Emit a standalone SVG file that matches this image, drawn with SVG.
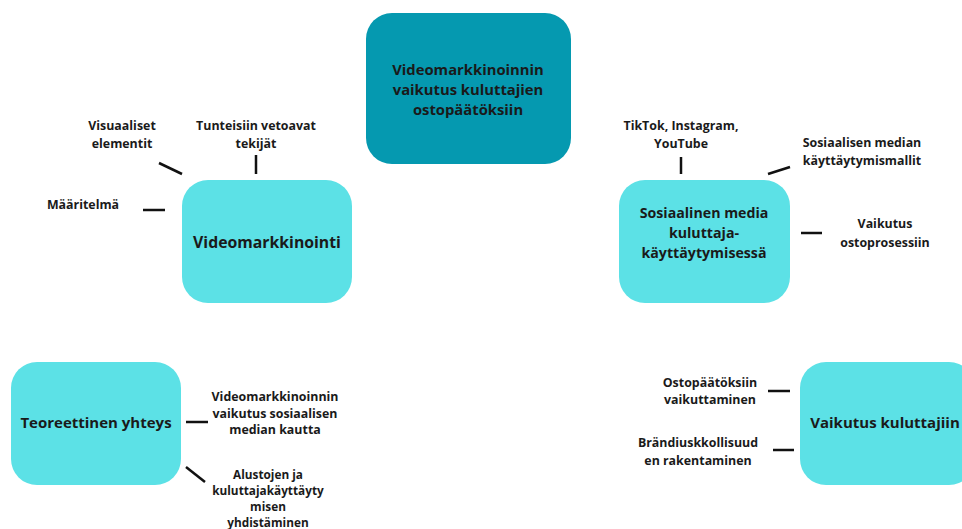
<svg xmlns="http://www.w3.org/2000/svg" width="962" height="529" viewBox="0 0 962 529">
<style>
.t{font-family:"Open Sans","Noto Sans","Liberation Sans",sans-serif;font-weight:700;fill:#1a1a1a;text-anchor:middle}
.lbl{font-size:12.4px}
.sm{font-size:11.8px}
.big{font-size:15px}
.mid{font-size:14.2px}
.main{fill:#0599b0}
.sub{fill:#5ce1e6}
.c{stroke:#111;stroke-width:2.5;fill:none}
</style>
<rect width="962" height="529" fill="#fff"/>
<g id="center">
<rect class="main" x="366" y="13" width="205" height="151" rx="26"/>
<text class="t" style="font-size:14.8px" x="468" y="75">Videomarkkinoinnin</text>
<text class="t" style="font-size:14.8px" x="468" y="95">vaikutus kuluttajien</text>
<text class="t" style="font-size:14.8px" x="468" y="115">ostopäätöksiin</text>
</g>
<g id="videomarkkinointi">
<rect class="sub" x="182" y="180" width="170" height="123" rx="26"/>
<text class="t" style="font-size:15.8px" x="267" y="248">Videomarkkinointi</text>
</g>
<g id="somekaytto">
<rect class="sub" x="619" y="180" width="171" height="123" rx="26"/>
<text class="t mid" x="704" y="218">Sosiaalinen media</text>
<text class="t mid" x="704" y="238">kuluttaja-</text>
<text class="t mid" x="704" y="258">käyttäytymisessä</text>
</g>
<g id="teoreettinen">
<rect class="sub" x="11" y="362" width="170" height="123" rx="26"/>
<text class="t big" x="96" y="428">Teoreettinen yhteys</text>
</g>
<g id="vaikutus">
<rect class="sub" x="800" y="362" width="175" height="123" rx="26"/>
<text class="t big" x="885" y="428">Vaikutus kuluttajiin</text>
</g>
<g id="labels">
<text class="t lbl" x="122" y="130">Visuaaliset</text>
<text class="t lbl" x="122" y="148">elementit</text>
<text class="t lbl" x="256" y="130">Tunteisiin vetoavat</text>
<text class="t lbl" x="256" y="148">tekijät</text>
<text class="t lbl" x="83" y="209">Määritelmä</text>
<text class="t lbl" x="681" y="130">TikTok, Instagram,</text>
<text class="t lbl" x="681" y="148">YouTube</text>
<text class="t lbl" x="862" y="147">Sosiaalisen median</text>
<text class="t lbl" x="862" y="165">käyttäytymismallit</text>
<text class="t lbl" x="885" y="228">Vaikutus</text>
<text class="t lbl" x="885" y="247">ostoprosessiin</text>
<text class="t lbl" x="275" y="401">Videomarkkinoinnin</text>
<text class="t lbl" x="275" y="418">vaikutus sosiaalisen</text>
<text class="t lbl" x="275" y="434">median kautta</text>
<text class="t sm" x="268" y="479">Alustojen ja</text>
<text class="t sm" x="268" y="495">kuluttajakäyttäyty</text>
<text class="t sm" x="268" y="511">misen</text>
<text class="t sm" x="268" y="527">yhdistäminen</text>
<text class="t lbl" x="710" y="387">Ostopäätöksiin</text>
<text class="t lbl" x="710" y="404">vaikuttaminen</text>
<text class="t lbl" x="698" y="447">Brändiuskkollisuud</text>
<text class="t lbl" x="698" y="465">en rakentaminen</text>
</g>
<g id="connectors">
<line class="c" x1="159" y1="163" x2="182" y2="174"/>
<line class="c" x1="256" y1="155" x2="256" y2="174"/>
<line class="c" x1="143" y1="210" x2="165" y2="210"/>
<line class="c" x1="681" y1="157" x2="681" y2="174"/>
<line class="c" x1="768" y1="174" x2="790" y2="167"/>
<line class="c" x1="801" y1="233" x2="822" y2="233"/>
<line class="c" x1="186" y1="422" x2="208" y2="422"/>
<line class="c" x1="186" y1="467" x2="205" y2="482"/>
<line class="c" x1="768" y1="391" x2="790" y2="391"/>
<line class="c" x1="773" y1="450" x2="794" y2="450"/>
</g>
</svg>
